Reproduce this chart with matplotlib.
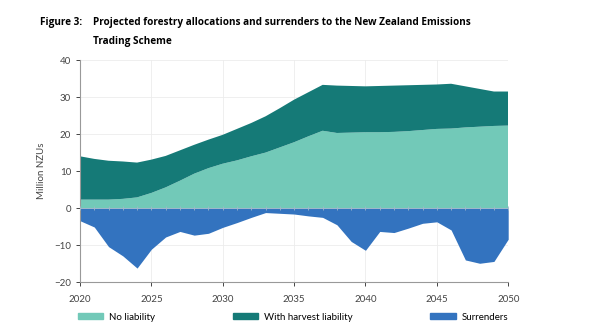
import numpy as np
import matplotlib
matplotlib.use("Agg")
from matplotlib import pyplot as plt
from matplotlib.patches import Patch

years = list(range(2020, 2051))

# stacked totals (million NZUs)
no_liability = [2.3, 2.3, 2.3, 2.5, 2.9, 4.1, 5.6, 7.4, 9.3, 10.8,
                12.0, 12.9, 14.0, 15.0, 16.4, 17.8, 19.4, 20.9, 20.3, 20.4,
                20.5, 20.5, 20.6, 20.8, 21.1, 21.4, 21.5, 21.8, 22.0, 22.2, 22.3]
total_allocations = [14.0, 13.3, 12.8, 12.6, 12.3, 13.1, 14.1, 15.6, 17.1, 18.5,
                     19.8, 21.4, 23.0, 24.8, 27.0, 29.3, 31.3, 33.3, 33.1, 33.0,
                     32.9, 33.0, 33.1, 33.2, 33.3, 33.4, 33.6, 32.9, 32.2, 31.5, 31.5]
with_harvest = [t - n for t, n in zip(total_allocations, no_liability)]
surrenders = [-3.4, -5.1, -10.4, -12.9, -16.2, -11.1, -7.8, -6.3, -7.3, -6.8,
              -5.2, -3.9, -2.5, -1.2, -1.4, -1.6, -2.1, -2.5, -4.5, -9.0,
              -11.4, -6.3, -6.6, -5.4, -4.1, -3.7, -5.9, -14.0, -14.9, -14.4, -8.4]

labels = ["No liability", "With harvest liability", "Surrenders"]
colors = ["#72c9b8", "#157a77", "#3373bf"]

plt.rcParams["font.family"] = ["Lato", "DejaVu Sans"]

fig = plt.figure(figsize=(6, 3.3), dpi=100)
ax = fig.add_axes([0.1333, 0.145, 0.7137, 0.673])

ax.stackplot(years, no_liability, with_harvest, colors=colors[:2], linewidth=0)
ax.fill_between(years, 0, surrenders, color=colors[2], linewidth=0)

# faint year marks along the zero line
ax.plot(years, [0] * len(years), color="#9fb7c9", lw=0.6, marker="|",
        markersize=3, markeredgewidth=0.6, zorder=3)

ax.set_xlim(2020, 2050)
ax.set_ylim(-20, 40)
ax.set_xticks(range(2020, 2051, 5))
ax.set_yticks(range(-20, 41, 10))
ax.grid(True, color="#ececec", lw=0.6)
ax.set_axisbelow(True)
for s in ["top", "right"]:
    ax.spines[s].set_visible(False)
for s in ["left", "bottom"]:
    ax.spines[s].set_color("#999999")
    ax.spines[s].set_linewidth(0.8)
ax.tick_params(labelsize=7, colors="#444444", length=3, width=0.7)
ax.tick_params(axis="x", pad=6)
ax.set_ylabel("Million NZUs", fontsize=7, color="#444444", labelpad=6)

title_font = ["Open Sans", "DejaVu Sans"]
fig.text(0.067, 0.925, "Figure 3:", fontsize=7.2, fontweight="bold", family=title_font)
fig.text(0.155, 0.925, "Projected forestry allocations and surrenders to the New Zealand Emissions",
         fontsize=7.2, fontweight="bold", family=title_font)
fig.text(0.155, 0.866, "Trading Scheme", fontsize=7.2, fontweight="bold", family=title_font)

handles = [Patch(color=c) for c in colors]
fig.legend(handles, labels, loc="lower left", bbox_to_anchor=(0.13, 0.025),
           ncol=3, frameon=False, fontsize=7, handlelength=2.6, handleheight=0.6,
           columnspacing=8.0, handletextpad=0.6, borderpad=0, borderaxespad=0)

fig.savefig("out.png", dpi=100)
